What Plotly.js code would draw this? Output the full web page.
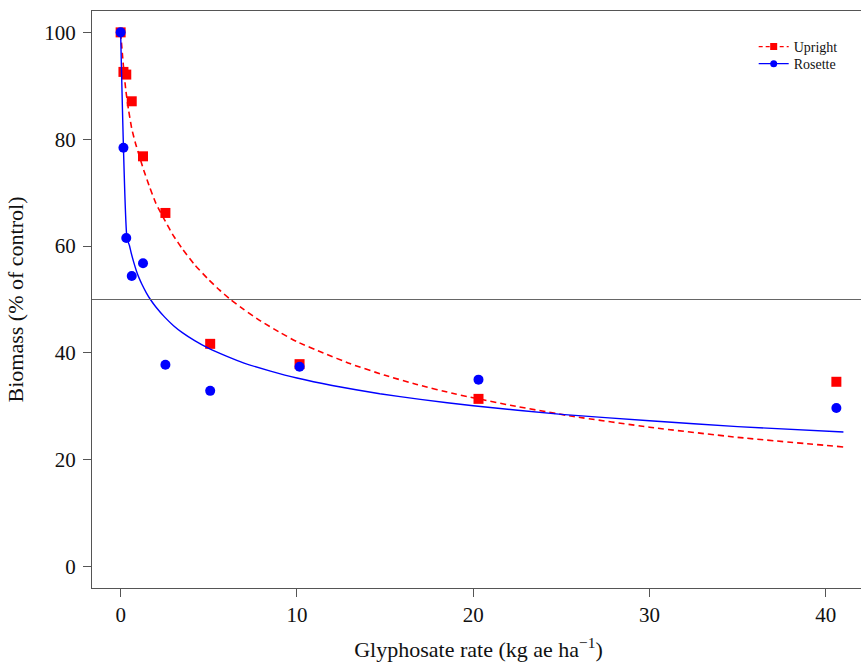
<!DOCTYPE html>
<html>
<head>
<meta charset="utf-8">
<script src="https://cdn.plot.ly/plotly-3.0.1.min.js"></script>
<style>
html,body{margin:0;padding:0;overflow:hidden;background:#fff;}
#chart{width:870px;height:663px;}
</style>
</head>
<body>
<div id="chart"></div>
<script>
// Observed data (doses in kg ae/ha, biomass % of control)
const doses = [0, 0.16, 0.32, 0.63, 1.27, 2.54, 5.08, 10.15, 20.3, 40.6];
const uprightBiomass = [100, 92.6, 92.1, 87.1, 76.8, 66.2, 41.7, 37.9, 31.4, 34.6];
const rosetteBiomass = [100, 78.4, 61.5, 54.4, 56.8, 37.8, 32.9, 37.4, 35.0, 29.7];

// Fitted curves
const uprightCurveX = [0, 0.17, 0.3, 0.45, 0.63, 0.83, 1.05, 1.27, 1.65, 2.0, 2.54, 3.0, 3.5, 4.2, 5, 5.6, 6.23, 7, 7.93, 9, 10, 11.5, 13, 15, 16.8, 19, 22.1, 25.7, 30, 35, 41];
const uprightCurveY = [100, 93.2, 89.0, 85.5, 82.0, 79.4, 77.0, 74.6, 71.0, 68.0, 64.6, 61.9, 59.5, 56.5, 53.7, 51.8, 50.0, 48.1, 46.0, 43.9, 42.1, 40.0, 38.0, 35.8, 34.1, 32.3, 30.2, 28.1, 26.1, 24.2, 22.4];
const rosetteCurveX = [0, 0.36, 0.5, 0.6, 0.75, 0.9, 1.05, 1.2, 1.45, 1.69, 2.0, 2.5, 3, 3.5, 4.2, 5, 6, 7, 8.5, 10, 12, 14.7, 17, 20, 25, 30, 35, 41];
const rosetteCurveY = [100, 61.5, 60.1, 58.7, 56.9, 55.3, 54.0, 52.9, 51.3, 50.0, 48.6, 46.7, 45.1, 43.8, 42.3, 40.85, 39.4, 38.1, 36.6, 35.3, 33.9, 32.35, 31.3, 30.1, 28.5, 27.3, 26.2, 25.2];

const seriesNames = ["Upright", "Rosette"];
const refLine = 50;
const xTicks = [0, 10, 20, 30, 40];
const yTicks = [0, 20, 40, 60, 80, 100];

const RED = "#ff0000", BLUE = "#0000ff";
const serif = "Liberation Serif";

const traces = [
  {x: uprightCurveX, y: uprightCurveY, mode: "lines", showlegend: false,
   line: {color: RED, width: 1.6, dash: "6px,4px", shape: "spline", smoothing: 0.5}, hoverinfo: "skip"},
  {x: doses, y: uprightBiomass, mode: "markers", showlegend: false,
   marker: {symbol: "square", size: 10, color: RED}},
  {x: doses, y: rosetteBiomass, mode: "markers", showlegend: false,
   marker: {symbol: "circle", size: 10, color: BLUE}},
  {x: rosetteCurveX, y: rosetteCurveY, mode: "lines", showlegend: false,
   line: {color: BLUE, width: 1.4, shape: "spline", smoothing: 0.5}, hoverinfo: "skip"},
  // legend entries
  {x: [null], y: [null], mode: "lines+markers", name: seriesNames[0], legend: "legend",
   line: {color: RED, width: 1.4, dash: "4px,3px"}, marker: {symbol: "square", size: 7, color: RED}},
  {x: [null], y: [null], mode: "lines+markers", name: seriesNames[1], legend: "legend2",
   line: {color: BLUE, width: 1.2}, marker: {symbol: "circle", size: 7, color: BLUE}}
];

const axisCommon = {
  showline: true, mirror: true, linecolor: "#555", linewidth: 1,
  ticks: "outside", ticklen: 8, tickcolor: "#555", tickwidth: 1,
  showgrid: false, zeroline: false,
  tickfont: {family: serif, size: 21, color: "#111"}
};

const legendCommon = {
  x: 0.856, xanchor: "left", yanchor: "middle",
  font: {family: serif, size: 14, color: "#111"}, bgcolor: "rgba(0,0,0,0)",
  itemwidth: 30
};

const layout = {
  width: 870, height: 663,
  margin: {l: 92, r: 5, t: 11, b: 75},
  paper_bgcolor: "#fff", plot_bgcolor: "#fff",
  font: {family: serif, color: "#111"},
  xaxis: Object.assign({}, axisCommon, {
    range: [-1.624, 42.224], tickvals: xTicks, ticktext: xTicks.map(String),
    title: {text: "Glyphosate rate (kg ae ha<sup>−1</sup>)", font: {family: serif, size: 22, color: "#111"}, standoff: 15}
  }),
  yaxis: Object.assign({}, axisCommon, {
    range: [-4, 104], tickvals: yTicks, ticktext: yTicks.map(String), ticklabelstandoff: 3,
    title: {text: "Biomass (% of control)", font: {family: serif, size: 22, color: "#111"}, standoff: 14}
  }),
  shapes: [{type: "line", xref: "paper", x0: 0, x1: 1, yref: "y", y0: refLine, y1: refLine,
            line: {color: "#666", width: 1.2}}],
  legend: Object.assign({}, legendCommon, {y: 0.9376}),
  legend2: Object.assign({}, legendCommon, {y: 0.908}),
  showlegend: true
};

Plotly.newPlot("chart", traces, layout, {displayModeBar: false, staticPlot: true});
</script>
</body>
</html>
